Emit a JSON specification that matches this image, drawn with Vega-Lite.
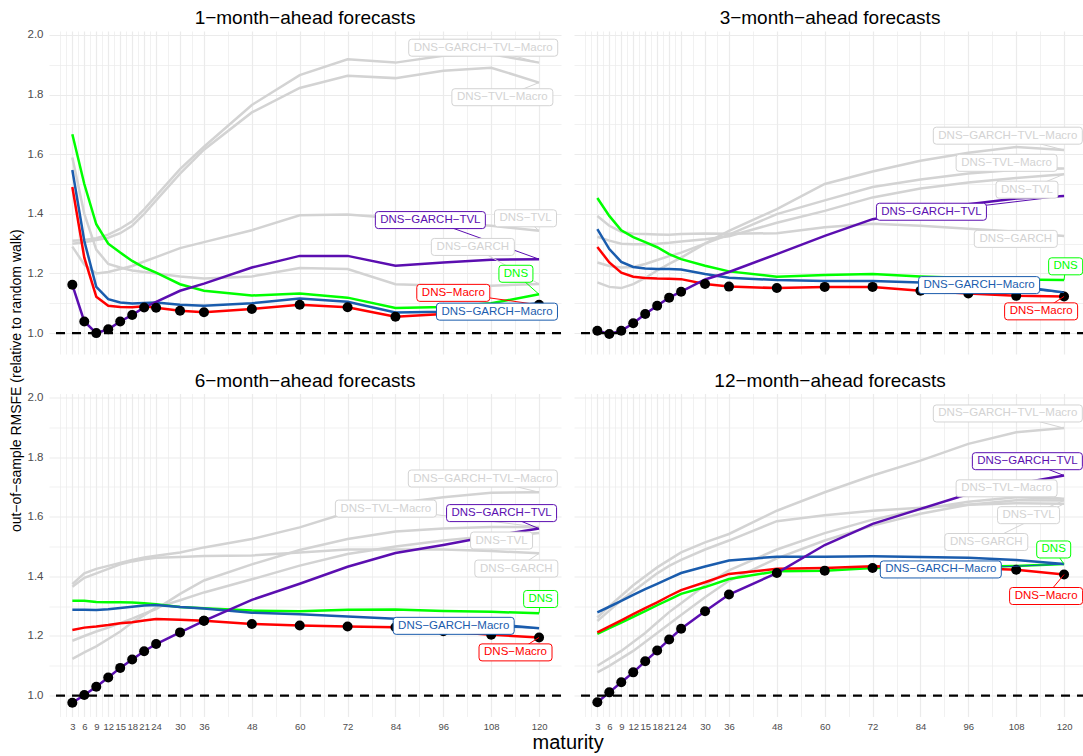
{
"$schema": "https://vega.github.io/schema/vega-lite/v6.json",
"background": "white",
"padding": {"left": 10, "top": 9, "right": 0, "bottom": 0},
"config": {
  "view": {"stroke": null},
  "font": "Liberation Sans",
  "axis": {"domain": false, "ticks": false, "tickSize": 0, "minExtent": 0, "gridColor": "#ebebeb", "labelFont": "Liberation Sans", "labelColor": "#4d4d4d", "title": null},
  "axisY": {"minExtent": 0},
  "axisX": {"minExtent": 0}
},
"title": {"text": "out−of−sample RMSFE (relative to random walk)", "orient": "left", "anchor": "middle", "fontSize": 14, "fontWeight": "normal", "color": "black", "offset": 3, "font": "Liberation Sans"},
"vconcat": [{
  "data": {"values": [
{"h":1,"s":"DNS−GARCH","m":3,"v":1.589},{"h":1,"s":"DNS−GARCH","m":6,"v":1.40},{"h":1,"s":"DNS−GARCH","m":9,"v":1.28},{"h":1,"s":"DNS−GARCH","m":12,"v":1.232},{"h":1,"s":"DNS−GARCH","m":15,"v":1.22},{"h":1,"s":"DNS−GARCH","m":18,"v":1.21},{"h":1,"s":"DNS−GARCH","m":21,"v":1.205},{"h":1,"s":"DNS−GARCH","m":24,"v":1.20},{"h":1,"s":"DNS−GARCH","m":30,"v":1.19},{"h":1,"s":"DNS−GARCH","m":36,"v":1.183},{"h":1,"s":"DNS−GARCH","m":48,"v":1.19},{"h":1,"s":"DNS−GARCH","m":60,"v":1.218},{"h":1,"s":"DNS−GARCH","m":72,"v":1.215},{"h":1,"s":"DNS−GARCH","m":84,"v":1.164},{"h":1,"s":"DNS−GARCH","m":96,"v":1.159},{"h":1,"s":"DNS−GARCH","m":108,"v":1.159},{"h":1,"s":"DNS−GARCH","m":120,"v":1.165},
{"h":1,"s":"DNS−TVL","m":3,"v":1.29},{"h":1,"s":"DNS−TVL","m":6,"v":1.23},{"h":1,"s":"DNS−TVL","m":9,"v":1.20},{"h":1,"s":"DNS−TVL","m":12,"v":1.205},{"h":1,"s":"DNS−TVL","m":15,"v":1.215},{"h":1,"s":"DNS−TVL","m":18,"v":1.225},{"h":1,"s":"DNS−TVL","m":21,"v":1.24},{"h":1,"s":"DNS−TVL","m":24,"v":1.255},{"h":1,"s":"DNS−TVL","m":30,"v":1.285},{"h":1,"s":"DNS−TVL","m":36,"v":1.305},{"h":1,"s":"DNS−TVL","m":48,"v":1.345},{"h":1,"s":"DNS−TVL","m":60,"v":1.395},{"h":1,"s":"DNS−TVL","m":72,"v":1.398},{"h":1,"s":"DNS−TVL","m":84,"v":1.385},{"h":1,"s":"DNS−TVL","m":96,"v":1.37},{"h":1,"s":"DNS−TVL","m":108,"v":1.36},{"h":1,"s":"DNS−TVL","m":120,"v":1.343},
{"h":1,"s":"DNS−TVL−Macro","m":3,"v":1.30},{"h":1,"s":"DNS−TVL−Macro","m":6,"v":1.305},{"h":1,"s":"DNS−TVL−Macro","m":9,"v":1.312},{"h":1,"s":"DNS−TVL−Macro","m":12,"v":1.32},{"h":1,"s":"DNS−TVL−Macro","m":15,"v":1.335},{"h":1,"s":"DNS−TVL−Macro","m":18,"v":1.36},{"h":1,"s":"DNS−TVL−Macro","m":21,"v":1.40},{"h":1,"s":"DNS−TVL−Macro","m":24,"v":1.445},{"h":1,"s":"DNS−TVL−Macro","m":30,"v":1.535},{"h":1,"s":"DNS−TVL−Macro","m":36,"v":1.615},{"h":1,"s":"DNS−TVL−Macro","m":48,"v":1.74},{"h":1,"s":"DNS−TVL−Macro","m":60,"v":1.822},{"h":1,"s":"DNS−TVL−Macro","m":72,"v":1.863},{"h":1,"s":"DNS−TVL−Macro","m":84,"v":1.855},{"h":1,"s":"DNS−TVL−Macro","m":96,"v":1.88},{"h":1,"s":"DNS−TVL−Macro","m":108,"v":1.89},{"h":1,"s":"DNS−TVL−Macro","m":120,"v":1.84},
{"h":1,"s":"DNS−GARCH−TVL−Macro","m":3,"v":1.31},{"h":1,"s":"DNS−GARCH−TVL−Macro","m":6,"v":1.312},{"h":1,"s":"DNS−GARCH−TVL−Macro","m":9,"v":1.318},{"h":1,"s":"DNS−GARCH−TVL−Macro","m":12,"v":1.33},{"h":1,"s":"DNS−GARCH−TVL−Macro","m":15,"v":1.35},{"h":1,"s":"DNS−GARCH−TVL−Macro","m":18,"v":1.375},{"h":1,"s":"DNS−GARCH−TVL−Macro","m":21,"v":1.415},{"h":1,"s":"DNS−GARCH−TVL−Macro","m":24,"v":1.46},{"h":1,"s":"DNS−GARCH−TVL−Macro","m":30,"v":1.55},{"h":1,"s":"DNS−GARCH−TVL−Macro","m":36,"v":1.625},{"h":1,"s":"DNS−GARCH−TVL−Macro","m":48,"v":1.765},{"h":1,"s":"DNS−GARCH−TVL−Macro","m":60,"v":1.865},{"h":1,"s":"DNS−GARCH−TVL−Macro","m":72,"v":1.918},{"h":1,"s":"DNS−GARCH−TVL−Macro","m":84,"v":1.907},{"h":1,"s":"DNS−GARCH−TVL−Macro","m":96,"v":1.93},{"h":1,"s":"DNS−GARCH−TVL−Macro","m":108,"v":1.935},{"h":1,"s":"DNS−GARCH−TVL−Macro","m":120,"v":1.907},
{"h":1,"s":"DNS","m":3,"v":1.667},{"h":1,"s":"DNS","m":6,"v":1.50},{"h":1,"s":"DNS","m":9,"v":1.365},{"h":1,"s":"DNS","m":12,"v":1.30},{"h":1,"s":"DNS","m":15,"v":1.27},{"h":1,"s":"DNS","m":18,"v":1.242},{"h":1,"s":"DNS","m":21,"v":1.22},{"h":1,"s":"DNS","m":24,"v":1.203},{"h":1,"s":"DNS","m":30,"v":1.164},{"h":1,"s":"DNS","m":36,"v":1.142},{"h":1,"s":"DNS","m":48,"v":1.126},{"h":1,"s":"DNS","m":60,"v":1.133},{"h":1,"s":"DNS","m":72,"v":1.119},{"h":1,"s":"DNS","m":84,"v":1.084},{"h":1,"s":"DNS","m":96,"v":1.088},{"h":1,"s":"DNS","m":108,"v":1.10},{"h":1,"s":"DNS","m":120,"v":1.13},
{"h":1,"s":"DNS−GARCH−Macro","m":3,"v":1.547},{"h":1,"s":"DNS−GARCH−Macro","m":6,"v":1.309},{"h":1,"s":"DNS−GARCH−Macro","m":9,"v":1.155},{"h":1,"s":"DNS−GARCH−Macro","m":12,"v":1.114},{"h":1,"s":"DNS−GARCH−Macro","m":15,"v":1.103},{"h":1,"s":"DNS−GARCH−Macro","m":18,"v":1.099},{"h":1,"s":"DNS−GARCH−Macro","m":21,"v":1.101},{"h":1,"s":"DNS−GARCH−Macro","m":24,"v":1.103},{"h":1,"s":"DNS−GARCH−Macro","m":30,"v":1.095},{"h":1,"s":"DNS−GARCH−Macro","m":36,"v":1.092},{"h":1,"s":"DNS−GARCH−Macro","m":48,"v":1.10},{"h":1,"s":"DNS−GARCH−Macro","m":60,"v":1.116},{"h":1,"s":"DNS−GARCH−Macro","m":72,"v":1.105},{"h":1,"s":"DNS−GARCH−Macro","m":84,"v":1.069},{"h":1,"s":"DNS−GARCH−Macro","m":96,"v":1.072},{"h":1,"s":"DNS−GARCH−Macro","m":108,"v":1.083},{"h":1,"s":"DNS−GARCH−Macro","m":120,"v":1.10},
{"h":1,"s":"DNS−Macro","m":3,"v":1.49},{"h":1,"s":"DNS−Macro","m":6,"v":1.253},{"h":1,"s":"DNS−Macro","m":9,"v":1.122},{"h":1,"s":"DNS−Macro","m":12,"v":1.092},{"h":1,"s":"DNS−Macro","m":15,"v":1.088},{"h":1,"s":"DNS−Macro","m":18,"v":1.087},{"h":1,"s":"DNS−Macro","m":21,"v":1.09},{"h":1,"s":"DNS−Macro","m":24,"v":1.085},{"h":1,"s":"DNS−Macro","m":30,"v":1.075},{"h":1,"s":"DNS−Macro","m":36,"v":1.07},{"h":1,"s":"DNS−Macro","m":48,"v":1.081},{"h":1,"s":"DNS−Macro","m":60,"v":1.095},{"h":1,"s":"DNS−Macro","m":72,"v":1.087},{"h":1,"s":"DNS−Macro","m":84,"v":1.055},{"h":1,"s":"DNS−Macro","m":96,"v":1.064},{"h":1,"s":"DNS−Macro","m":108,"v":1.08},{"h":1,"s":"DNS−Macro","m":120,"v":1.095},
{"h":1,"s":"DNS−GARCH−TVL","m":3,"v":1.162},{"h":1,"s":"DNS−GARCH−TVL","m":6,"v":1.039},{"h":1,"s":"DNS−GARCH−TVL","m":9,"v":1.0},{"h":1,"s":"DNS−GARCH−TVL","m":12,"v":1.013},{"h":1,"s":"DNS−GARCH−TVL","m":15,"v":1.039},{"h":1,"s":"DNS−GARCH−TVL","m":18,"v":1.061},{"h":1,"s":"DNS−GARCH−TVL","m":21,"v":1.086},{"h":1,"s":"DNS−GARCH−TVL","m":24,"v":1.105},{"h":1,"s":"DNS−GARCH−TVL","m":30,"v":1.142},{"h":1,"s":"DNS−GARCH−TVL","m":36,"v":1.166},{"h":1,"s":"DNS−GARCH−TVL","m":48,"v":1.22},{"h":1,"s":"DNS−GARCH−TVL","m":60,"v":1.259},{"h":1,"s":"DNS−GARCH−TVL","m":72,"v":1.259},{"h":1,"s":"DNS−GARCH−TVL","m":84,"v":1.226},{"h":1,"s":"DNS−GARCH−TVL","m":96,"v":1.237},{"h":1,"s":"DNS−GARCH−TVL","m":108,"v":1.246},{"h":1,"s":"DNS−GARCH−TVL","m":120,"v":1.248},

{"h":3,"s":"DNS−GARCH","m":3,"v":1.393},{"h":3,"s":"DNS−GARCH","m":6,"v":1.36},{"h":3,"s":"DNS−GARCH","m":9,"v":1.34},{"h":3,"s":"DNS−GARCH","m":12,"v":1.333},{"h":3,"s":"DNS−GARCH","m":15,"v":1.332},{"h":3,"s":"DNS−GARCH","m":18,"v":1.331},{"h":3,"s":"DNS−GARCH","m":21,"v":1.33},{"h":3,"s":"DNS−GARCH","m":24,"v":1.332},{"h":3,"s":"DNS−GARCH","m":30,"v":1.334},{"h":3,"s":"DNS−GARCH","m":36,"v":1.333},{"h":3,"s":"DNS−GARCH","m":48,"v":1.335},{"h":3,"s":"DNS−GARCH","m":60,"v":1.355},{"h":3,"s":"DNS−GARCH","m":72,"v":1.367},{"h":3,"s":"DNS−GARCH","m":84,"v":1.36},{"h":3,"s":"DNS−GARCH","m":96,"v":1.35},{"h":3,"s":"DNS−GARCH","m":108,"v":1.34},{"h":3,"s":"DNS−GARCH","m":120,"v":1.326},
{"h":3,"s":"DNS−TVL","m":3,"v":1.323},{"h":3,"s":"DNS−TVL","m":6,"v":1.31},{"h":3,"s":"DNS−TVL","m":9,"v":1.30},{"h":3,"s":"DNS−TVL","m":12,"v":1.298},{"h":3,"s":"DNS−TVL","m":15,"v":1.298},{"h":3,"s":"DNS−TVL","m":18,"v":1.30},{"h":3,"s":"DNS−TVL","m":21,"v":1.303},{"h":3,"s":"DNS−TVL","m":24,"v":1.307},{"h":3,"s":"DNS−TVL","m":30,"v":1.315},{"h":3,"s":"DNS−TVL","m":36,"v":1.325},{"h":3,"s":"DNS−TVL","m":48,"v":1.37},{"h":3,"s":"DNS−TVL","m":60,"v":1.41},{"h":3,"s":"DNS−TVL","m":72,"v":1.455},{"h":3,"s":"DNS−TVL","m":84,"v":1.485},{"h":3,"s":"DNS−TVL","m":96,"v":1.505},{"h":3,"s":"DNS−TVL","m":108,"v":1.52},{"h":3,"s":"DNS−TVL","m":120,"v":1.533},
{"h":3,"s":"DNS−TVL−Macro","m":3,"v":1.237},{"h":3,"s":"DNS−TVL−Macro","m":6,"v":1.225},{"h":3,"s":"DNS−TVL−Macro","m":9,"v":1.22},{"h":3,"s":"DNS−TVL−Macro","m":12,"v":1.222},{"h":3,"s":"DNS−TVL−Macro","m":15,"v":1.232},{"h":3,"s":"DNS−TVL−Macro","m":18,"v":1.245},{"h":3,"s":"DNS−TVL−Macro","m":21,"v":1.258},{"h":3,"s":"DNS−TVL−Macro","m":24,"v":1.27},{"h":3,"s":"DNS−TVL−Macro","m":30,"v":1.30},{"h":3,"s":"DNS−TVL−Macro","m":36,"v":1.33},{"h":3,"s":"DNS−TVL−Macro","m":48,"v":1.399},{"h":3,"s":"DNS−TVL−Macro","m":60,"v":1.445},{"h":3,"s":"DNS−TVL−Macro","m":72,"v":1.49},{"h":3,"s":"DNS−TVL−Macro","m":84,"v":1.515},{"h":3,"s":"DNS−TVL−Macro","m":96,"v":1.535},{"h":3,"s":"DNS−TVL−Macro","m":108,"v":1.548},{"h":3,"s":"DNS−TVL−Macro","m":120,"v":1.552},
{"h":3,"s":"DNS−GARCH−TVL−Macro","m":3,"v":1.17},{"h":3,"s":"DNS−GARCH−TVL−Macro","m":6,"v":1.155},{"h":3,"s":"DNS−GARCH−TVL−Macro","m":9,"v":1.151},{"h":3,"s":"DNS−GARCH−TVL−Macro","m":12,"v":1.164},{"h":3,"s":"DNS−GARCH−TVL−Macro","m":15,"v":1.185},{"h":3,"s":"DNS−GARCH−TVL−Macro","m":18,"v":1.21},{"h":3,"s":"DNS−GARCH−TVL−Macro","m":21,"v":1.232},{"h":3,"s":"DNS−GARCH−TVL−Macro","m":24,"v":1.253},{"h":3,"s":"DNS−GARCH−TVL−Macro","m":30,"v":1.30},{"h":3,"s":"DNS−GARCH−TVL−Macro","m":36,"v":1.343},{"h":3,"s":"DNS−GARCH−TVL−Macro","m":48,"v":1.416},{"h":3,"s":"DNS−GARCH−TVL−Macro","m":60,"v":1.50},{"h":3,"s":"DNS−GARCH−TVL−Macro","m":72,"v":1.542},{"h":3,"s":"DNS−GARCH−TVL−Macro","m":84,"v":1.578},{"h":3,"s":"DNS−GARCH−TVL−Macro","m":96,"v":1.605},{"h":3,"s":"DNS−GARCH−TVL−Macro","m":108,"v":1.624},{"h":3,"s":"DNS−GARCH−TVL−Macro","m":120,"v":1.614},
{"h":3,"s":"DNS","m":3,"v":1.453},{"h":3,"s":"DNS","m":6,"v":1.393},{"h":3,"s":"DNS","m":9,"v":1.345},{"h":3,"s":"DNS","m":12,"v":1.322},{"h":3,"s":"DNS","m":15,"v":1.305},{"h":3,"s":"DNS","m":18,"v":1.288},{"h":3,"s":"DNS","m":21,"v":1.265},{"h":3,"s":"DNS","m":24,"v":1.248},{"h":3,"s":"DNS","m":30,"v":1.226},{"h":3,"s":"DNS","m":36,"v":1.207},{"h":3,"s":"DNS","m":48,"v":1.189},{"h":3,"s":"DNS","m":60,"v":1.195},{"h":3,"s":"DNS","m":72,"v":1.198},{"h":3,"s":"DNS","m":84,"v":1.19},{"h":3,"s":"DNS","m":96,"v":1.185},{"h":3,"s":"DNS","m":108,"v":1.18},{"h":3,"s":"DNS","m":120,"v":1.178},
{"h":3,"s":"DNS−GARCH−Macro","m":3,"v":1.349},{"h":3,"s":"DNS−GARCH−Macro","m":6,"v":1.282},{"h":3,"s":"DNS−GARCH−Macro","m":9,"v":1.239},{"h":3,"s":"DNS−GARCH−Macro","m":12,"v":1.222},{"h":3,"s":"DNS−GARCH−Macro","m":15,"v":1.217},{"h":3,"s":"DNS−GARCH−Macro","m":18,"v":1.215},{"h":3,"s":"DNS−GARCH−Macro","m":21,"v":1.215},{"h":3,"s":"DNS−GARCH−Macro","m":24,"v":1.213},{"h":3,"s":"DNS−GARCH−Macro","m":30,"v":1.198},{"h":3,"s":"DNS−GARCH−Macro","m":36,"v":1.186},{"h":3,"s":"DNS−GARCH−Macro","m":48,"v":1.178},{"h":3,"s":"DNS−GARCH−Macro","m":60,"v":1.175},{"h":3,"s":"DNS−GARCH−Macro","m":72,"v":1.175},{"h":3,"s":"DNS−GARCH−Macro","m":84,"v":1.17},{"h":3,"s":"DNS−GARCH−Macro","m":96,"v":1.165},{"h":3,"s":"DNS−GARCH−Macro","m":108,"v":1.158},{"h":3,"s":"DNS−GARCH−Macro","m":120,"v":1.136},
{"h":3,"s":"DNS−Macro","m":3,"v":1.289},{"h":3,"s":"DNS−Macro","m":6,"v":1.237},{"h":3,"s":"DNS−Macro","m":9,"v":1.203},{"h":3,"s":"DNS−Macro","m":12,"v":1.189},{"h":3,"s":"DNS−Macro","m":15,"v":1.185},{"h":3,"s":"DNS−Macro","m":18,"v":1.183},{"h":3,"s":"DNS−Macro","m":21,"v":1.182},{"h":3,"s":"DNS−Macro","m":24,"v":1.181},{"h":3,"s":"DNS−Macro","m":30,"v":1.165},{"h":3,"s":"DNS−Macro","m":36,"v":1.156},{"h":3,"s":"DNS−Macro","m":48,"v":1.151},{"h":3,"s":"DNS−Macro","m":60,"v":1.155},{"h":3,"s":"DNS−Macro","m":72,"v":1.155},{"h":3,"s":"DNS−Macro","m":84,"v":1.142},{"h":3,"s":"DNS−Macro","m":96,"v":1.133},{"h":3,"s":"DNS−Macro","m":108,"v":1.125},{"h":3,"s":"DNS−Macro","m":120,"v":1.123},
{"h":3,"s":"DNS−GARCH−TVL","m":3,"v":1.008},{"h":3,"s":"DNS−GARCH−TVL","m":6,"v":0.997},{"h":3,"s":"DNS−GARCH−TVL","m":9,"v":1.008},{"h":3,"s":"DNS−GARCH−TVL","m":12,"v":1.033},{"h":3,"s":"DNS−GARCH−TVL","m":15,"v":1.064},{"h":3,"s":"DNS−GARCH−TVL","m":18,"v":1.092},{"h":3,"s":"DNS−GARCH−TVL","m":21,"v":1.119},{"h":3,"s":"DNS−GARCH−TVL","m":24,"v":1.139},{"h":3,"s":"DNS−GARCH−TVL","m":30,"v":1.18},{"h":3,"s":"DNS−GARCH−TVL","m":36,"v":1.205},{"h":3,"s":"DNS−GARCH−TVL","m":48,"v":1.265},{"h":3,"s":"DNS−GARCH−TVL","m":60,"v":1.326},{"h":3,"s":"DNS−GARCH−TVL","m":72,"v":1.382},{"h":3,"s":"DNS−GARCH−TVL","m":84,"v":1.41},{"h":3,"s":"DNS−GARCH−TVL","m":96,"v":1.432},{"h":3,"s":"DNS−GARCH−TVL","m":108,"v":1.451},{"h":3,"s":"DNS−GARCH−TVL","m":120,"v":1.46},

{"h":6,"s":"DNS−GARCH","m":3,"v":1.365},{"h":6,"s":"DNS−GARCH","m":6,"v":1.395},{"h":6,"s":"DNS−GARCH","m":9,"v":1.41},{"h":6,"s":"DNS−GARCH","m":12,"v":1.425},{"h":6,"s":"DNS−GARCH","m":15,"v":1.44},{"h":6,"s":"DNS−GARCH","m":18,"v":1.45},{"h":6,"s":"DNS−GARCH","m":21,"v":1.457},{"h":6,"s":"DNS−GARCH","m":24,"v":1.462},{"h":6,"s":"DNS−GARCH","m":30,"v":1.465},{"h":6,"s":"DNS−GARCH","m":36,"v":1.468},{"h":6,"s":"DNS−GARCH","m":48,"v":1.47},{"h":6,"s":"DNS−GARCH","m":60,"v":1.48},{"h":6,"s":"DNS−GARCH","m":72,"v":1.49},{"h":6,"s":"DNS−GARCH","m":84,"v":1.49},{"h":6,"s":"DNS−GARCH","m":96,"v":1.49},{"h":6,"s":"DNS−GARCH","m":108,"v":1.485},{"h":6,"s":"DNS−GARCH","m":120,"v":1.477},
{"h":6,"s":"DNS−TVL","m":3,"v":1.123},{"h":6,"s":"DNS−TVL","m":6,"v":1.145},{"h":6,"s":"DNS−TVL","m":9,"v":1.165},{"h":6,"s":"DNS−TVL","m":12,"v":1.19},{"h":6,"s":"DNS−TVL","m":15,"v":1.215},{"h":6,"s":"DNS−TVL","m":18,"v":1.245},{"h":6,"s":"DNS−TVL","m":21,"v":1.27},{"h":6,"s":"DNS−TVL","m":24,"v":1.295},{"h":6,"s":"DNS−TVL","m":30,"v":1.32},{"h":6,"s":"DNS−TVL","m":36,"v":1.346},{"h":6,"s":"DNS−TVL","m":48,"v":1.39},{"h":6,"s":"DNS−TVL","m":60,"v":1.436},{"h":6,"s":"DNS−TVL","m":72,"v":1.475},{"h":6,"s":"DNS−TVL","m":84,"v":1.50},{"h":6,"s":"DNS−TVL","m":96,"v":1.52},{"h":6,"s":"DNS−TVL","m":108,"v":1.535},{"h":6,"s":"DNS−TVL","m":120,"v":1.545},
{"h":6,"s":"DNS−TVL−Macro","m":3,"v":1.184},{"h":6,"s":"DNS−TVL−Macro","m":6,"v":1.20},{"h":6,"s":"DNS−TVL−Macro","m":9,"v":1.215},{"h":6,"s":"DNS−TVL−Macro","m":12,"v":1.228},{"h":6,"s":"DNS−TVL−Macro","m":15,"v":1.243},{"h":6,"s":"DNS−TVL−Macro","m":18,"v":1.258},{"h":6,"s":"DNS−TVL−Macro","m":21,"v":1.275},{"h":6,"s":"DNS−TVL−Macro","m":24,"v":1.29},{"h":6,"s":"DNS−TVL−Macro","m":30,"v":1.341},{"h":6,"s":"DNS−TVL−Macro","m":36,"v":1.386},{"h":6,"s":"DNS−TVL−Macro","m":48,"v":1.44},{"h":6,"s":"DNS−TVL−Macro","m":60,"v":1.488},{"h":6,"s":"DNS−TVL−Macro","m":72,"v":1.525},{"h":6,"s":"DNS−TVL−Macro","m":84,"v":1.55},{"h":6,"s":"DNS−TVL−Macro","m":96,"v":1.56},{"h":6,"s":"DNS−TVL−Macro","m":108,"v":1.565},{"h":6,"s":"DNS−TVL−Macro","m":120,"v":1.565},
{"h":6,"s":"DNS−GARCH−TVL−Macro","m":3,"v":1.374},{"h":6,"s":"DNS−GARCH−TVL−Macro","m":6,"v":1.41},{"h":6,"s":"DNS−GARCH−TVL−Macro","m":9,"v":1.425},{"h":6,"s":"DNS−GARCH−TVL−Macro","m":12,"v":1.435},{"h":6,"s":"DNS−GARCH−TVL−Macro","m":15,"v":1.445},{"h":6,"s":"DNS−GARCH−TVL−Macro","m":18,"v":1.455},{"h":6,"s":"DNS−GARCH−TVL−Macro","m":21,"v":1.463},{"h":6,"s":"DNS−GARCH−TVL−Macro","m":24,"v":1.469},{"h":6,"s":"DNS−GARCH−TVL−Macro","m":30,"v":1.48},{"h":6,"s":"DNS−GARCH−TVL−Macro","m":36,"v":1.497},{"h":6,"s":"DNS−GARCH−TVL−Macro","m":48,"v":1.525},{"h":6,"s":"DNS−GARCH−TVL−Macro","m":60,"v":1.564},{"h":6,"s":"DNS−GARCH−TVL−Macro","m":72,"v":1.614},{"h":6,"s":"DNS−GARCH−TVL−Macro","m":84,"v":1.645},{"h":6,"s":"DNS−GARCH−TVL−Macro","m":96,"v":1.665},{"h":6,"s":"DNS−GARCH−TVL−Macro","m":108,"v":1.68},{"h":6,"s":"DNS−GARCH−TVL−Macro","m":120,"v":1.682},
{"h":6,"s":"DNS","m":3,"v":1.318},{"h":6,"s":"DNS","m":6,"v":1.318},{"h":6,"s":"DNS","m":9,"v":1.314},{"h":6,"s":"DNS","m":12,"v":1.313},{"h":6,"s":"DNS","m":15,"v":1.313},{"h":6,"s":"DNS","m":18,"v":1.312},{"h":6,"s":"DNS","m":21,"v":1.31},{"h":6,"s":"DNS","m":24,"v":1.306},{"h":6,"s":"DNS","m":30,"v":1.297},{"h":6,"s":"DNS","m":36,"v":1.293},{"h":6,"s":"DNS","m":48,"v":1.285},{"h":6,"s":"DNS","m":60,"v":1.283},{"h":6,"s":"DNS","m":72,"v":1.288},{"h":6,"s":"DNS","m":84,"v":1.289},{"h":6,"s":"DNS","m":96,"v":1.284},{"h":6,"s":"DNS","m":108,"v":1.281},{"h":6,"s":"DNS","m":120,"v":1.276},
{"h":6,"s":"DNS−GARCH−Macro","m":3,"v":1.288},{"h":6,"s":"DNS−GARCH−Macro","m":6,"v":1.288},{"h":6,"s":"DNS−GARCH−Macro","m":9,"v":1.287},{"h":6,"s":"DNS−GARCH−Macro","m":12,"v":1.29},{"h":6,"s":"DNS−GARCH−Macro","m":15,"v":1.294},{"h":6,"s":"DNS−GARCH−Macro","m":18,"v":1.298},{"h":6,"s":"DNS−GARCH−Macro","m":21,"v":1.302},{"h":6,"s":"DNS−GARCH−Macro","m":24,"v":1.304},{"h":6,"s":"DNS−GARCH−Macro","m":30,"v":1.297},{"h":6,"s":"DNS−GARCH−Macro","m":36,"v":1.292},{"h":6,"s":"DNS−GARCH−Macro","m":48,"v":1.278},{"h":6,"s":"DNS−GARCH−Macro","m":60,"v":1.273},{"h":6,"s":"DNS−GARCH−Macro","m":72,"v":1.265},{"h":6,"s":"DNS−GARCH−Macro","m":84,"v":1.258},{"h":6,"s":"DNS−GARCH−Macro","m":96,"v":1.25},{"h":6,"s":"DNS−GARCH−Macro","m":108,"v":1.24},{"h":6,"s":"DNS−GARCH−Macro","m":120,"v":1.226},
{"h":6,"s":"DNS−Macro","m":3,"v":1.22},{"h":6,"s":"DNS−Macro","m":6,"v":1.228},{"h":6,"s":"DNS−Macro","m":9,"v":1.232},{"h":6,"s":"DNS−Macro","m":12,"v":1.237},{"h":6,"s":"DNS−Macro","m":15,"v":1.243},{"h":6,"s":"DNS−Macro","m":18,"v":1.246},{"h":6,"s":"DNS−Macro","m":21,"v":1.252},{"h":6,"s":"DNS−Macro","m":24,"v":1.257},{"h":6,"s":"DNS−Macro","m":30,"v":1.254},{"h":6,"s":"DNS−Macro","m":36,"v":1.251},{"h":6,"s":"DNS−Macro","m":48,"v":1.24},{"h":6,"s":"DNS−Macro","m":60,"v":1.235},{"h":6,"s":"DNS−Macro","m":72,"v":1.232},{"h":6,"s":"DNS−Macro","m":84,"v":1.229},{"h":6,"s":"DNS−Macro","m":96,"v":1.216},{"h":6,"s":"DNS−Macro","m":108,"v":1.204},{"h":6,"s":"DNS−Macro","m":120,"v":1.195},
{"h":6,"s":"DNS−GARCH−TVL","m":3,"v":0.976},{"h":6,"s":"DNS−GARCH−TVL","m":6,"v":1.002},{"h":6,"s":"DNS−GARCH−TVL","m":9,"v":1.03},{"h":6,"s":"DNS−GARCH−TVL","m":12,"v":1.061},{"h":6,"s":"DNS−GARCH−TVL","m":15,"v":1.093},{"h":6,"s":"DNS−GARCH−TVL","m":18,"v":1.121},{"h":6,"s":"DNS−GARCH−TVL","m":21,"v":1.149},{"h":6,"s":"DNS−GARCH−TVL","m":24,"v":1.173},{"h":6,"s":"DNS−GARCH−TVL","m":30,"v":1.212},{"h":6,"s":"DNS−GARCH−TVL","m":36,"v":1.251},{"h":6,"s":"DNS−GARCH−TVL","m":48,"v":1.321},{"h":6,"s":"DNS−GARCH−TVL","m":60,"v":1.375},{"h":6,"s":"DNS−GARCH−TVL","m":72,"v":1.432},{"h":6,"s":"DNS−GARCH−TVL","m":84,"v":1.478},{"h":6,"s":"DNS−GARCH−TVL","m":96,"v":1.505},{"h":6,"s":"DNS−GARCH−TVL","m":108,"v":1.535},{"h":6,"s":"DNS−GARCH−TVL","m":120,"v":1.56},

{"h":12,"s":"DNS−GARCH","m":3,"v":1.25},{"h":12,"s":"DNS−GARCH","m":6,"v":1.285},{"h":12,"s":"DNS−GARCH","m":9,"v":1.32},{"h":12,"s":"DNS−GARCH","m":12,"v":1.35},{"h":12,"s":"DNS−GARCH","m":15,"v":1.38},{"h":12,"s":"DNS−GARCH","m":18,"v":1.41},{"h":12,"s":"DNS−GARCH","m":21,"v":1.435},{"h":12,"s":"DNS−GARCH","m":24,"v":1.455},{"h":12,"s":"DNS−GARCH","m":30,"v":1.49},{"h":12,"s":"DNS−GARCH","m":36,"v":1.52},{"h":12,"s":"DNS−GARCH","m":48,"v":1.585},{"h":12,"s":"DNS−GARCH","m":60,"v":1.605},{"h":12,"s":"DNS−GARCH","m":72,"v":1.62},{"h":12,"s":"DNS−GARCH","m":84,"v":1.63},{"h":12,"s":"DNS−GARCH","m":96,"v":1.64},{"h":12,"s":"DNS−GARCH","m":108,"v":1.645},{"h":12,"s":"DNS−GARCH","m":120,"v":1.643},
{"h":12,"s":"DNS−TVL","m":3,"v":1.078},{"h":12,"s":"DNS−TVL","m":6,"v":1.10},{"h":12,"s":"DNS−TVL","m":9,"v":1.125},{"h":12,"s":"DNS−TVL","m":12,"v":1.15},{"h":12,"s":"DNS−TVL","m":15,"v":1.18},{"h":12,"s":"DNS−TVL","m":18,"v":1.21},{"h":12,"s":"DNS−TVL","m":21,"v":1.24},{"h":12,"s":"DNS−TVL","m":24,"v":1.27},{"h":12,"s":"DNS−TVL","m":30,"v":1.33},{"h":12,"s":"DNS−TVL","m":36,"v":1.385},{"h":12,"s":"DNS−TVL","m":48,"v":1.46},{"h":12,"s":"DNS−TVL","m":60,"v":1.52},{"h":12,"s":"DNS−TVL","m":72,"v":1.57},{"h":12,"s":"DNS−TVL","m":84,"v":1.61},{"h":12,"s":"DNS−TVL","m":96,"v":1.64},{"h":12,"s":"DNS−TVL","m":108,"v":1.655},{"h":12,"s":"DNS−TVL","m":120,"v":1.654},
{"h":12,"s":"DNS−TVL−Macro","m":3,"v":1.10},{"h":12,"s":"DNS−TVL−Macro","m":6,"v":1.125},{"h":12,"s":"DNS−TVL−Macro","m":9,"v":1.15},{"h":12,"s":"DNS−TVL−Macro","m":12,"v":1.18},{"h":12,"s":"DNS−TVL−Macro","m":15,"v":1.21},{"h":12,"s":"DNS−TVL−Macro","m":18,"v":1.245},{"h":12,"s":"DNS−TVL−Macro","m":21,"v":1.28},{"h":12,"s":"DNS−TVL−Macro","m":24,"v":1.31},{"h":12,"s":"DNS−TVL−Macro","m":30,"v":1.37},{"h":12,"s":"DNS−TVL−Macro","m":36,"v":1.42},{"h":12,"s":"DNS−TVL−Macro","m":48,"v":1.49},{"h":12,"s":"DNS−TVL−Macro","m":60,"v":1.545},{"h":12,"s":"DNS−TVL−Macro","m":72,"v":1.59},{"h":12,"s":"DNS−TVL−Macro","m":84,"v":1.625},{"h":12,"s":"DNS−TVL−Macro","m":96,"v":1.65},{"h":12,"s":"DNS−TVL−Macro","m":108,"v":1.665},{"h":12,"s":"DNS−TVL−Macro","m":120,"v":1.66},
{"h":12,"s":"DNS−GARCH−TVL−Macro","m":3,"v":1.262},{"h":12,"s":"DNS−GARCH−TVL−Macro","m":6,"v":1.30},{"h":12,"s":"DNS−GARCH−TVL−Macro","m":9,"v":1.335},{"h":12,"s":"DNS−GARCH−TVL−Macro","m":12,"v":1.37},{"h":12,"s":"DNS−GARCH−TVL−Macro","m":15,"v":1.40},{"h":12,"s":"DNS−GARCH−TVL−Macro","m":18,"v":1.43},{"h":12,"s":"DNS−GARCH−TVL−Macro","m":21,"v":1.455},{"h":12,"s":"DNS−GARCH−TVL−Macro","m":24,"v":1.48},{"h":12,"s":"DNS−GARCH−TVL−Macro","m":30,"v":1.514},{"h":12,"s":"DNS−GARCH−TVL−Macro","m":36,"v":1.542},{"h":12,"s":"DNS−GARCH−TVL−Macro","m":48,"v":1.62},{"h":12,"s":"DNS−GARCH−TVL−Macro","m":60,"v":1.682},{"h":12,"s":"DNS−GARCH−TVL−Macro","m":72,"v":1.738},{"h":12,"s":"DNS−GARCH−TVL−Macro","m":84,"v":1.788},{"h":12,"s":"DNS−GARCH−TVL−Macro","m":96,"v":1.844},{"h":12,"s":"DNS−GARCH−TVL−Macro","m":108,"v":1.883},{"h":12,"s":"DNS−GARCH−TVL−Macro","m":120,"v":1.897},
{"h":12,"s":"DNS","m":3,"v":1.207},{"h":12,"s":"DNS","m":6,"v":1.226},{"h":12,"s":"DNS","m":9,"v":1.245},{"h":12,"s":"DNS","m":12,"v":1.264},{"h":12,"s":"DNS","m":15,"v":1.283},{"h":12,"s":"DNS","m":18,"v":1.303},{"h":12,"s":"DNS","m":21,"v":1.322},{"h":12,"s":"DNS","m":24,"v":1.341},{"h":12,"s":"DNS","m":30,"v":1.364},{"h":12,"s":"DNS","m":36,"v":1.391},{"h":12,"s":"DNS","m":48,"v":1.417},{"h":12,"s":"DNS","m":60,"v":1.419},{"h":12,"s":"DNS","m":72,"v":1.428},{"h":12,"s":"DNS","m":84,"v":1.43},{"h":12,"s":"DNS","m":96,"v":1.432},{"h":12,"s":"DNS","m":108,"v":1.435},{"h":12,"s":"DNS","m":120,"v":1.441},
{"h":12,"s":"DNS−GARCH−Macro","m":3,"v":1.279},{"h":12,"s":"DNS−GARCH−Macro","m":6,"v":1.298},{"h":12,"s":"DNS−GARCH−Macro","m":9,"v":1.318},{"h":12,"s":"DNS−GARCH−Macro","m":12,"v":1.338},{"h":12,"s":"DNS−GARCH−Macro","m":15,"v":1.357},{"h":12,"s":"DNS−GARCH−Macro","m":18,"v":1.375},{"h":12,"s":"DNS−GARCH−Macro","m":21,"v":1.393},{"h":12,"s":"DNS−GARCH−Macro","m":24,"v":1.411},{"h":12,"s":"DNS−GARCH−Macro","m":30,"v":1.433},{"h":12,"s":"DNS−GARCH−Macro","m":36,"v":1.453},{"h":12,"s":"DNS−GARCH−Macro","m":48,"v":1.466},{"h":12,"s":"DNS−GARCH−Macro","m":60,"v":1.466},{"h":12,"s":"DNS−GARCH−Macro","m":72,"v":1.467},{"h":12,"s":"DNS−GARCH−Macro","m":84,"v":1.465},{"h":12,"s":"DNS−GARCH−Macro","m":96,"v":1.462},{"h":12,"s":"DNS−GARCH−Macro","m":108,"v":1.455},{"h":12,"s":"DNS−GARCH−Macro","m":120,"v":1.441},
{"h":12,"s":"DNS−Macro","m":3,"v":1.212},{"h":12,"s":"DNS−Macro","m":6,"v":1.232},{"h":12,"s":"DNS−Macro","m":9,"v":1.252},{"h":12,"s":"DNS−Macro","m":12,"v":1.273},{"h":12,"s":"DNS−Macro","m":15,"v":1.293},{"h":12,"s":"DNS−Macro","m":18,"v":1.313},{"h":12,"s":"DNS−Macro","m":21,"v":1.334},{"h":12,"s":"DNS−Macro","m":24,"v":1.354},{"h":12,"s":"DNS−Macro","m":30,"v":1.38},{"h":12,"s":"DNS−Macro","m":36,"v":1.408},{"h":12,"s":"DNS−Macro","m":48,"v":1.425},{"h":12,"s":"DNS−Macro","m":60,"v":1.428},{"h":12,"s":"DNS−Macro","m":72,"v":1.434},{"h":12,"s":"DNS−Macro","m":84,"v":1.432},{"h":12,"s":"DNS−Macro","m":96,"v":1.428},{"h":12,"s":"DNS−Macro","m":108,"v":1.422},{"h":12,"s":"DNS−Macro","m":120,"v":1.406},
{"h":12,"s":"DNS−GARCH−TVL","m":3,"v":0.978},{"h":12,"s":"DNS−GARCH−TVL","m":6,"v":1.011},{"h":12,"s":"DNS−GARCH−TVL","m":9,"v":1.045},{"h":12,"s":"DNS−GARCH−TVL","m":12,"v":1.078},{"h":12,"s":"DNS−GARCH−TVL","m":15,"v":1.115},{"h":12,"s":"DNS−GARCH−TVL","m":18,"v":1.151},{"h":12,"s":"DNS−GARCH−TVL","m":21,"v":1.188},{"h":12,"s":"DNS−GARCH−TVL","m":24,"v":1.224},{"h":12,"s":"DNS−GARCH−TVL","m":30,"v":1.283},{"h":12,"s":"DNS−GARCH−TVL","m":36,"v":1.339},{"h":12,"s":"DNS−GARCH−TVL","m":48,"v":1.411},{"h":12,"s":"DNS−GARCH−TVL","m":60,"v":1.505},{"h":12,"s":"DNS−GARCH−TVL","m":72,"v":1.576},{"h":12,"s":"DNS−GARCH−TVL","m":84,"v":1.626},{"h":12,"s":"DNS−GARCH−TVL","m":96,"v":1.676},{"h":12,"s":"DNS−GARCH−TVL","m":108,"v":1.71},{"h":12,"s":"DNS−GARCH−TVL","m":120,"v":1.738},

{"h":1,"s":"DNS−GARCH−TVL−Macro","lx":106,"ly":1.957,"ex":120,"ey":1.907},
{"h":1,"s":"DNS−TVL−Macro","lx":110.8,"ly":1.791,"ex":120,"ey":1.84},
{"h":1,"s":"DNS−GARCH−TVL","lx":92.75,"ly":1.379,"ex":120,"ey":1.248},
{"h":1,"s":"DNS−TVL","lx":116.6,"ly":1.385,"ex":120,"ey":1.343},
{"h":1,"s":"DNS−GARCH","lx":103.4,"ly":1.289,"ex":120,"ey":1.165},
{"h":1,"s":"DNS","lx":114.2,"ly":1.199,"ex":120,"ey":1.13},
{"h":1,"s":"DNS−Macro","lx":98.5,"ly":1.135,"ex":120,"ey":1.095},
{"h":1,"s":"DNS−GARCH−Macro","lx":109.45,"ly":1.072,"ex":120,"ey":1.10},
{"h":3,"s":"DNS−GARCH−TVL−Macro","lx":105.9,"ly":1.662,"ex":120,"ey":1.614},
{"h":3,"s":"DNS−TVL−Macro","lx":105.6,"ly":1.571,"ex":120,"ey":1.552},
{"h":3,"s":"DNS−TVL","lx":110.7,"ly":1.481,"ex":120,"ey":1.533},
{"h":3,"s":"DNS−GARCH−TVL","lx":86.75,"ly":1.407,"ex":120,"ey":1.46},
{"h":3,"s":"DNS−GARCH","lx":107.9,"ly":1.316,"ex":120,"ey":1.326},
{"h":3,"s":"DNS","lx":120.4,"ly":1.224,"ex":120,"ey":1.178},
{"h":3,"s":"DNS−GARCH−Macro","lx":98.7,"ly":1.161,"ex":120,"ey":1.136},
{"h":3,"s":"DNS−Macro","lx":114.25,"ly":1.073,"ex":120,"ey":1.123},
{"h":6,"s":"DNS−GARCH−TVL−Macro","lx":105.9,"ly":1.728,"ex":120,"ey":1.682},
{"h":6,"s":"DNS−TVL−Macro","lx":81.6,"ly":1.627,"ex":120,"ey":1.565},
{"h":6,"s":"DNS−GARCH−TVL","lx":110.6,"ly":1.612,"ex":120,"ey":1.56},
{"h":6,"s":"DNS−TVL","lx":110.6,"ly":1.52,"ex":120,"ey":1.545},
{"h":6,"s":"DNS−GARCH","lx":114.3,"ly":1.426,"ex":120,"ey":1.477},
{"h":6,"s":"DNS","lx":120.4,"ly":1.324,"ex":120,"ey":1.276},
{"h":6,"s":"DNS−GARCH−Macro","lx":98.6,"ly":1.234,"ex":120,"ey":1.226},
{"h":6,"s":"DNS−Macro","lx":114.1,"ly":1.145,"ex":120,"ey":1.195},
{"h":12,"s":"DNS−GARCH−TVL−Macro","lx":105.9,"ly":1.946,"ex":120,"ey":1.897},
{"h":12,"s":"DNS−GARCH−TVL","lx":110.8,"ly":1.786,"ex":120,"ey":1.738},
{"h":12,"s":"DNS−TVL−Macro","lx":105.6,"ly":1.695,"ex":120,"ey":1.66},
{"h":12,"s":"DNS−TVL","lx":111.1,"ly":1.605,"ex":120,"ey":1.654},
{"h":12,"s":"DNS−GARCH","lx":100.5,"ly":1.515,"ex":120,"ey":1.643},
{"h":12,"s":"DNS","lx":117.4,"ly":1.49,"ex":120,"ey":1.441},
{"h":12,"s":"DNS−GARCH−Macro","lx":89.1,"ly":1.423,"ex":120,"ey":1.441},
{"h":12,"s":"DNS−Macro","lx":115.5,"ly":1.334,"ex":120,"ey":1.406}
  ]},
  "title": {"text": "maturity", "orient": "bottom", "anchor": "middle", "frame": "bounds", "dx": 11, "fontSize": 20, "fontWeight": "normal", "color": "black", "offset": 2, "font": "Liberation Sans"},
  "facet": {"field": "h", "type": "ordinal", "sort": [1, 3, 6, 12],
    "header": {"title": null, "labelFontSize": 19, "labelColor": "black", "labelFont": "Liberation Sans", "labelPadding": 3, "labelExpr": "datum.value + '−month−ahead forecasts'"}},
  "columns": 2,
  "spacing": {"row": 17.5, "column": 9},
  "spec": {
    "width": 512,
    "height": 323,
    "resolve": {"axis": {"x": "independent", "y": "independent"}},
    "layer": [
      {
        "transform": [{"filter": "isValid(datum.v) && indexof(['DNS−GARCH','DNS−TVL','DNS−TVL−Macro','DNS−GARCH−TVL−Macro'], datum.s) >= 0"}],
        "mark": {"type": "line", "strokeWidth": 2.5, "color": "#d3d3d3"},
        "encoding": {
          "x": {"field": "m", "type": "quantitative", "scale": {"domain": [-2.85, 125.5], "nice": false, "zero": false},
                "axis": {"orient": "bottom", "values": [3,6,9,12,15,18,21,24,30,36,48,60,72,84,96,108,120], "labelFontSize": 9.5, "labelPadding": 4, "labelOverlap": false, "labelFlush": false, "grid": true, "gridWidth": 1.2, "minExtent": 0, "title": null}},
          "y": {"field": "v", "type": "quantitative", "scale": {"domain": [0.93, 2.013], "nice": false, "zero": false},
                "axis": {"orient": "left", "values": [1.0,1.2,1.4,1.6,1.8,2.0], "format": ".1f", "labelFontSize": 11.5, "labelPadding": 4, "grid": true, "gridWidth": 1.2, "minExtent": 0, "title": null}},
          "detail": {"field": "s"}
        }
      },
      {
        "transform": [{"filter": "isValid(datum.v) && indexof(['DNS−GARCH','DNS−TVL','DNS−TVL−Macro','DNS−GARCH−TVL−Macro'], datum.s) < 0"}],
        "mark": {"type": "line", "strokeWidth": 2.5},
        "encoding": {
          "x": {"field": "m", "type": "quantitative",
                "axis": {"orient": "bottom", "values": [0,1.5,4.5,7.5,10.5,13.5,16.5,19.5,22.5,27,33,42,54,66,78,90,102,114], "labels": false, "grid": true, "gridWidth": 0.7, "minExtent": 0, "labelPadding": 0, "title": null}},
          "y": {"field": "v", "type": "quantitative",
                "axis": {"orient": "left", "values": [1.1,1.3,1.5,1.7,1.9], "labels": false, "grid": true, "gridWidth": 0.7, "minExtent": 0, "labelPadding": 0, "title": null}},
          "color": {"field": "s", "type": "nominal", "legend": null,
                    "scale": {"domain": ["DNS","DNS−Macro","DNS−GARCH","DNS−TVL","DNS−GARCH−Macro","DNS−GARCH−TVL","DNS−TVL−Macro","DNS−GARCH−TVL−Macro"],
                              "range": ["#00ff00","#ff0000","#d3d3d3","#d3d3d3","#1a5cad","#5b0eb0","#d3d3d3","#d3d3d3"]}}
        }
      },
      {
        "transform": [{"filter": "isValid(datum.lx) && datum.s == 'DNS'"}],
        "mark": {"type": "rule", "strokeDash": [9, 7], "strokeWidth": 2.4, "color": "black"},
        "encoding": {"y": {"datum": 1, "type": "quantitative", "axis": null}}
      },
      {
        "transform": [{"filter": "isValid(datum.v)"}, {"joinaggregate": [{"op": "min", "field": "v", "as": "best"}], "groupby": ["h", "m"]}, {"filter": "datum.v == datum.best"}],
        "mark": {"type": "circle", "size": 100, "color": "black", "opacity": 1},
        "encoding": {
          "x": {"field": "m", "type": "quantitative", "axis": null},
          "y": {"field": "v", "type": "quantitative", "axis": null}
        }
      },
      {
        "transform": [{"filter": "isValid(datum.lx)"}],
        "mark": {"type": "rule", "strokeWidth": 1},
        "encoding": {
          "x": {"field": "lx", "type": "quantitative", "axis": null},
          "y": {"field": "ly", "type": "quantitative", "axis": null},
          "x2": {"field": "ex"},
          "y2": {"field": "ey"},
          "color": {"field": "s", "type": "nominal", "legend": null,
                    "scale": {"domain": ["DNS","DNS−Macro","DNS−GARCH","DNS−TVL","DNS−GARCH−Macro","DNS−GARCH−TVL","DNS−TVL−Macro","DNS−GARCH−TVL−Macro"],
                              "range": ["#00ff00","#ff0000","#d3d3d3","#d3d3d3","#1a5cad","#5b0eb0","#d3d3d3","#d3d3d3"]}}
        }
      },
      {
        "transform": [{"filter": "isValid(datum.lx)"}],
        "mark": {"type": "point", "filled": true, "fill": "white", "size": 10000, "strokeWidth": 1, "opacity": 1, "fillOpacity": 1, "strokeOpacity": 1},
        "encoding": {
          "x": {"field": "lx", "type": "quantitative", "axis": null},
          "y": {"field": "ly", "type": "quantitative", "axis": null},
          "shape": {"field": "s", "type": "nominal", "legend": null,
                    "scale": {"domain": ["DNS","DNS−Macro","DNS−GARCH","DNS−TVL","DNS−GARCH−Macro","DNS−GARCH−TVL","DNS−TVL−Macro","DNS−GARCH−TVL−Macro"],
                              "range": [
"M-0.28,-0.17L0.28,-0.17Q0.34,-0.17 0.34,-0.11L0.34,0.11Q0.34,0.17 0.28,0.17L-0.28,0.17Q-0.34,0.17 -0.34,0.11L-0.34,-0.11Q-0.34,-0.17 -0.28,-0.17Z",
"M-0.67,-0.17L0.67,-0.17Q0.73,-0.17 0.73,-0.11L0.73,0.11Q0.73,0.17 0.67,0.17L-0.67,0.17Q-0.73,0.17 -0.73,0.11L-0.73,-0.11Q-0.73,-0.17 -0.67,-0.17Z",
"M-0.77,-0.17L0.77,-0.17Q0.83,-0.17 0.83,-0.11L0.83,0.11Q0.83,0.17 0.77,0.17L-0.77,0.17Q-0.83,0.17 -0.83,0.11L-0.83,-0.11Q-0.83,-0.17 -0.77,-0.17Z",
"M-0.56,-0.17L0.56,-0.17Q0.62,-0.17 0.62,-0.11L0.62,0.11Q0.62,0.17 0.56,0.17L-0.56,0.17Q-0.62,0.17 -0.62,0.11L-0.62,-0.11Q-0.62,-0.17 -0.56,-0.17Z",
"M-1.15,-0.17L1.15,-0.17Q1.21,-0.17 1.21,-0.11L1.21,0.11Q1.21,0.17 1.15,0.17L-1.15,0.17Q-1.21,0.17 -1.21,0.11L-1.21,-0.11Q-1.21,-0.17 -1.15,-0.17Z",
"M-1.04,-0.17L1.04,-0.17Q1.10,-0.17 1.10,-0.11L1.10,0.11Q1.10,0.17 1.04,0.17L-1.04,0.17Q-1.10,0.17 -1.10,0.11L-1.10,-0.11Q-1.10,-0.17 -1.04,-0.17Z",
"M-0.95,-0.17L0.95,-0.17Q1.01,-0.17 1.01,-0.11L1.01,0.11Q1.01,0.17 0.95,0.17L-0.95,0.17Q-1.01,0.17 -1.01,0.11L-1.01,-0.11Q-1.01,-0.17 -0.95,-0.17Z",
"M-1.43,-0.17L1.43,-0.17Q1.49,-0.17 1.49,-0.11L1.49,0.11Q1.49,0.17 1.43,0.17L-1.43,0.17Q-1.49,0.17 -1.49,0.11L-1.49,-0.11Q-1.49,-0.17 -1.43,-0.17Z"
                              ]}},
          "stroke": {"field": "s", "type": "nominal", "legend": null,
                    "scale": {"domain": ["DNS","DNS−Macro","DNS−GARCH","DNS−TVL","DNS−GARCH−Macro","DNS−GARCH−TVL","DNS−TVL−Macro","DNS−GARCH−TVL−Macro"],
                              "range": ["#00ff00","#ff0000","#d3d3d3","#d3d3d3","#1a5cad","#5b0eb0","#d3d3d3","#d3d3d3"]}}
        }
      },
      {
        "transform": [{"filter": "isValid(datum.lx)"}],
        "mark": {"type": "text", "fontSize": 11.5, "align": "center", "baseline": "middle", "font": "Liberation Sans"},
        "encoding": {
          "x": {"field": "lx", "type": "quantitative", "axis": null},
          "y": {"field": "ly", "type": "quantitative", "axis": null},
          "text": {"field": "s"},
          "color": {"field": "s", "type": "nominal", "legend": null,
                    "scale": {"domain": ["DNS","DNS−Macro","DNS−GARCH","DNS−TVL","DNS−GARCH−Macro","DNS−GARCH−TVL","DNS−TVL−Macro","DNS−GARCH−TVL−Macro"],
                              "range": ["#00ee00","#ff0000","#c8c8c8","#c8c8c8","#1a5cad","#5b0eb0","#c8c8c8","#c8c8c8"]}}
        }
      }
    ]
  }
}]
}
